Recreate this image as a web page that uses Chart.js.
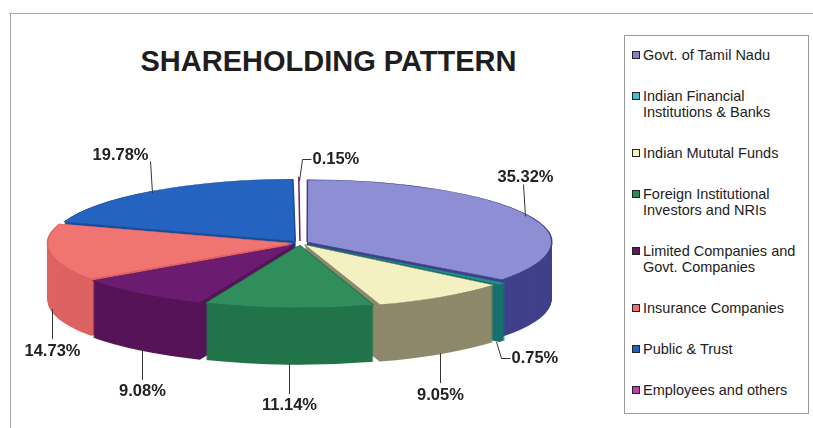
<!DOCTYPE html>
<html>
<head>
<meta charset="utf-8">
<script src="https://cdn.jsdelivr.net/npm/chart.js@4.4.0/dist/chart.umd.min.js"></script>
<style>
  html, body { margin: 0; padding: 0; background: #fff; }
  body { width: 813px; height: 428px; position: relative; overflow: hidden; font-family: "Liberation Sans", Arial, sans-serif; color: #222; }
  #frameTop { position: absolute; left: 9px; top: 13px; width: 804px; height: 1px; background: #a8a8a8; }
  #frameLeft { position: absolute; left: 10px; top: 13px; width: 1px; height: 415px; background: #a8a8a8; }
  #title { position: absolute; left: 0; top: 44px; width: 657px; text-align: center; font-weight: bold; font-size: 29px; line-height: 34px; color: #1e1e1e; }
  #pie { position: absolute; left: 10px; top: 13px; }
  #legend { position: absolute; left: 624px; top: 35px; width: 185px; height: 379px; box-sizing: border-box; border: 1px solid #9a9a9a; padding-top: 11px; }
  .item { position: relative; padding-left: 18px; margin-bottom: 25px; font-size: 14.5px; line-height: 16px; width: 163px; }
  .swatch { position: absolute; left: 7px; top: 4px; width: 6px; height: 6px; border: 1px solid #222; }
</style>
</head>
<body>
<div id="frameTop"></div>
<div id="frameLeft"></div>
<div id="title">SHAREHOLDING PATTERN</div>
<canvas id="pie" width="580" height="415"></canvas>
<div id="legend"></div>
<script>
// data
const categories = [
    'Govt. of Tamil Nadu',
    'Indian Financial Institutions & Banks',
    'Indian Mututal Funds',
    'Foreign Institutional Investors and NRIs',
    'Limited Companies and Govt. Companies',
    'Insurance Companies',
    'Public & Trust',
    'Employees and others'
];
const shares = [35.32, 0.75, 9.05, 11.14, 9.08, 14.73, 19.78, 0.15];

// colours (top face, side wall, legend swatch)
const topColors = ['#8e8ed4', '#23908f', '#f3f0c2', '#2f8e5c', '#6b1b70', '#f07572', '#2463bf', '#a33a98'];
const sideColors = ['#40408a', '#17706e', '#8d896b', '#22744a', '#561458', '#dc6361', '#1b4d98', '#6e1f66'];
const legendColors = ['#8484c4', '#40c0d0', '#f4f0c0', '#2e8b57', '#5a1a5a', '#f07070', '#2060c0', '#c040b0'];

const tilt = 0.255;   // vertical squash of the pie
const depth = 57;     // thickness of the pie in px

// legend (html, built from the arrays)
const legendBox = document.getElementById('legend');
categories.forEach((name, i) => {
    const item = document.createElement('div');
    item.className = 'item';
    const sw = document.createElement('span');
    sw.className = 'swatch';
    sw.style.background = legendColors[i];
    item.appendChild(sw);
    item.appendChild(document.createTextNode(name));
    legendBox.appendChild(item);
});

// draw an arc element with another fill colour
function paint(arc, color, ctx) {
    const ghost = Object.create(arc);
    ghost.options = Object.assign({}, arc.options, {backgroundColor: color, borderColor: color, borderWidth: 0});
    ghost.draw(ctx);
}

function drawCallouts(ctx, arcs, cx, cy) {
    ctx.save();
    ctx.strokeStyle = '#333';
    ctx.lineWidth = 1;
    ctx.fillStyle = '#222';
    ctx.font = 'bold 16.5px "Liberation Sans", Arial, sans-serif';
    ctx.textBaseline = 'middle';
    arcs.forEach((arc, i) => {
        const mid = (arc.startAngle + arc.endAngle) / 2;
        const r = arc.outerRadius + (arc.options.offset || 0) / 4;
        const x = Math.round(cx + Math.cos(mid) * r) + 0.5;
        const rim = cy + Math.sin(mid) * r * tilt;
        const front = Math.sin(mid) > 0;
        const text = shares[i].toFixed(2) + '%';

        ctx.beginPath();
        if (shares[i] < 1) {
            // thin slice: elbow leader, label to the right
            const y0 = front ? rim + depth + 2 : rim + 2;
            const y1 = Math.round(front ? rim + depth + 18 : rim - 20) + 0.5;
            const x1 = x + (front ? 5 : 3);
            ctx.moveTo(x, y0);
            ctx.lineTo(x1, y1);
            ctx.lineTo(x1 + 9, y1);
            ctx.stroke();
            ctx.textAlign = 'left';
            ctx.fillText(text, x1 + 10, y1);
        } else if (front) {
            ctx.moveTo(x, rim + depth);
            ctx.lineTo(x, rim + depth + 30);
            ctx.stroke();
            ctx.textAlign = 'center';
            ctx.fillText(text, x, rim + depth + 42);
        } else {
            const y1 = rim - 30;
            ctx.moveTo(x, rim + 2);
            ctx.lineTo(x - 2, y1);
            ctx.stroke();
            if (Math.cos(mid) < -0.3) {
                ctx.textAlign = 'right';
                ctx.fillText(text, x - 4, y1 - 6);
            } else {
                ctx.textAlign = 'center';
                ctx.fillText(text, x, y1 - 7);
            }
        }
    });
    ctx.restore();
}

// fake 3d: stack squashed copies of the arcs, then the top face
const pie3d = {
    id: 'pie3d',
    beforeDatasetsDraw(chart) {
        const ctx = chart.ctx;
        const arcs = chart.getDatasetMeta(0).data;
        const cx = arcs[0].x;
        const cy = arcs[0].y;
        const squash = (dy) => {
            ctx.translate(0, cy + dy);
            ctx.scale(1, tilt);
            ctx.translate(0, -cy);
        };
        for (let d = depth; d >= 1; d--) {
            ctx.save();
            squash(d);
            arcs.forEach((arc, i) => paint(arc, sideColors[i], ctx));
            ctx.restore();
        }
        ctx.save();
        squash(0);
        arcs.forEach(arc => arc.draw(ctx));
        ctx.restore();

        drawCallouts(ctx, arcs, cx, cy);
        return false;
    }
};

new Chart(document.getElementById('pie'), {
    type: 'pie',
    data: {
        labels: categories,
        datasets: [{
            data: shares,
            backgroundColor: topColors,
            borderColor: sideColors,
            borderWidth: 1.5,
            offset: 32
        }]
    },
    options: {
        responsive: false,
        devicePixelRatio: 1,
        animation: false,
        events: [],
        radius: 243,
        layout: { padding: { left: 0, right: 0, top: 80, bottom: 35 } },
        plugins: {
            legend: { display: false },
            title: { display: false },
            tooltip: { enabled: false }
        }
    },
    plugins: [pie3d]
});
</script>
</body>
</html>
